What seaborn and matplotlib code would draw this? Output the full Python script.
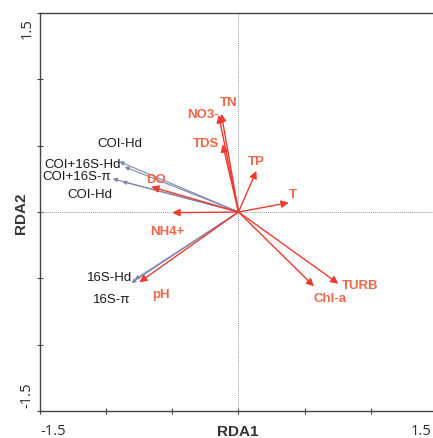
import matplotlib
matplotlib.use('Agg')
import matplotlib.pyplot as plt
import seaborn as sns

# --- environmental factors (arrow tips and label positions) ---
env_names = ['TN', 'NO3-', 'TDS', 'TP', 'T', 'NH4+', 'DO', 'pH', 'Chl-a', 'TURB']
env_x = [-0.13, -0.15, -0.12, 0.135, 0.38, -0.50, -0.66, -0.75, 0.57, 0.755]
env_y = [0.74, 0.73, 0.51, 0.31, 0.07, -0.005, 0.19, -0.53, -0.56, -0.54]
env_lab_x = [-0.076, -0.272, -0.249, 0.136, 0.408, -0.536, -0.627, -0.589, 0.695, 0.921]
env_lab_y = [0.829, 0.739, 0.52, 0.384, 0.136, -0.143, 0.249, -0.618, -0.648, -0.550]

# --- diversity indices (response variables) ---
sp_names = ['COI-Hd', 'COI+16S-Hd', 'COI+16S-π', 'COI-Hd', '16S-Hd', '16S-π']
sp_x = [-0.86, -0.90, -0.95, -0.88, -0.785, -0.81]
sp_y = [0.34, 0.38, 0.25, 0.23, -0.51, -0.535]
sp_lab_x = [-0.899, -1.178, -1.224, -1.125, -0.974, -0.959]
sp_lab_y = [0.52, 0.362, 0.271, 0.136, -0.49, -0.656]

sns.set_theme(style='white')
plt.rcParams['font.family'] = ['Liberation Sans', 'DejaVu Sans']

W, H = 433, 439
fig = plt.figure(figsize=(W / 100, H / 100), dpi=100)
ax = fig.add_axes([40 / W, 27 / H, 397 / W, 398 / H])
ax.set_xlim(-1.5, 1.5)
ax.set_ylim(-1.5, 1.5)

ax.axhline(0, color='#9a9a9a', lw=0.7, ls=(0, (1, 1)), zorder=1)
ax.axvline(0, color='#9a9a9a', lw=0.7, ls=(0, (1, 1)), zorder=1)

red = '#ee3b30'
lab_red = '#f2664a'
sp_col = '#7f86ad'

for x, y in zip(sp_x, sp_y):
    ax.annotate('', xy=(x, y), xytext=(0, 0),
                arrowprops=dict(arrowstyle='-|>', color=sp_col, lw=0.8,
                                mutation_scale=6, shrinkA=0, shrinkB=0), zorder=2)
for name, lx, ly in zip(sp_names, sp_lab_x, sp_lab_y):
    ax.text(lx, ly, name, ha='center', va='center', fontsize=9.5, color='#1a1a1a')

for x, y in zip(env_x, env_y):
    ax.annotate('', xy=(x, y), xytext=(0, 0),
                arrowprops=dict(arrowstyle='-|>', color=red, lw=1.0,
                                mutation_scale=11, shrinkA=0, shrinkB=0), zorder=3)
for name, lx, ly in zip(env_names, env_lab_x, env_lab_y):
    ax.text(lx, ly, name, ha='center', va='center', fontsize=9.5,
            fontweight='bold', color=lab_red)

# axes frame and ticks
for side in ['left', 'bottom', 'top', 'right']:
    ax.spines[side].set_color('#4a4242')
    ax.spines[side].set_linewidth(1.0)
ticks = [-1.5, -1.0, -0.5, 0.0, 0.5, 1.0, 1.5]
ax.set_xticks(ticks)
ax.set_yticks(ticks)
ax.set_xticklabels([])
ax.set_yticklabels([])
ax.tick_params(direction='inout', length=5, width=0.8, color='#4a4242',
               bottom=True, left=True)

# end labels of the axes, placed in figure pixels
def px(x, y):
    return x / W, 1 - y / H

tick_font = dict(family=['Open Sans', 'DejaVu Sans'], fontsize=10.5, color='#2a2a2a')
fig.text(*px(40, 435), '-1.5', ha='left', va='baseline', **tick_font)
fig.text(*px(432, 435), '1.5', ha='right', va='baseline', **tick_font)
ax.text(-1.6, 1.47, '1.5', ha='center', va='top', rotation=90, **tick_font)
ax.text(-1.6, -1.47, '-1.5', ha='center', va='bottom', rotation=90, **tick_font)

fig.text(*px(238, 436), 'RDA1', ha='center', va='baseline', fontsize=11,
         fontweight='bold', color='#333333')
ax.text(-1.645, 0, 'RDA2', ha='center', va='center', rotation=90, fontsize=11,
        fontweight='bold', color='#333333')

fig.savefig('out.png', dpi=100)
